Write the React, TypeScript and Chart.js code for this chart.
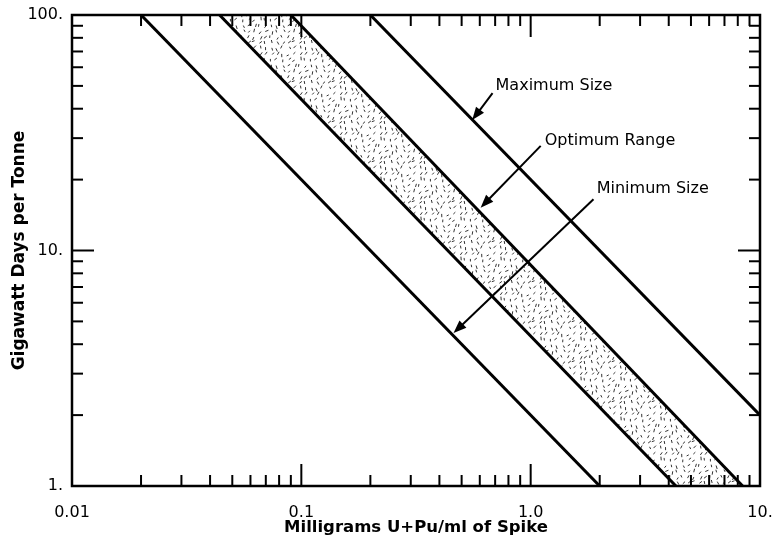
import React, { useEffect, useRef } from "react";
import { Chart, registerables } from "chart.js";

Chart.register(...registerables);

// ---- axes ----
const xMin = 0.01;
const xMax = 10;
const yMin = 1;
const yMax = 100;
const xTickValues = [0.01, 0.1, 1, 10];
const xTickLabels = ["0.01", "0.1", "1.0", "10."];
const yTickValues = [1, 10, 100];
const yTickLabels = ["1.", "10.", "100."];
const xMinorTicks = [
  0.02, 0.03, 0.04, 0.05, 0.06, 0.07, 0.08, 0.09,
  0.2, 0.3, 0.4, 0.5, 0.6, 0.7, 0.8, 0.9,
  2, 3, 4, 5, 6, 7, 8, 9,
];
const yMinorTicks = [2, 3, 4, 5, 6, 7, 8, 9, 20, 30, 40, 50, 60, 70, 80, 90];

// ---- lines (end points) ----
const minSizeX = [0.02, 2];
const minSizeY = [100, 1];
const optLowX = [0.044, 4.3];
const optLowY = [100, 1];
const optHighX = [0.09, 8.4];
const optHighY = [100, 1];
const maxSizeX = [0.2, 10];
const maxSizeY = [100, 2];

// ---- annotations (data coordinates) ----
const annotLabels = ["Maximum Size", "Optimum Range", "Minimum Size"];
const annotTextX = [0.703, 1.151, 1.941];
const annotTextY = [49.9, 29.3, 18.24];
const arrowTailX = [0.682, 1.106, 1.879];
const arrowTailY = [46.6, 27.8, 16.5];
const arrowTipX = [0.556, 0.605, 0.461];
const arrowTipY = [35.8, 15.2, 4.46];

const xTitle = "Milligrams U+Pu/ml of Spike";
const yTitle = "Gigawatt Days per Tonne";

const FONT = "'DejaVu Sans', Verdana, sans-serif";

function pts(xs: number[], ys: number[]) {
  return xs.map((x, i) => ({ x, y: ys[i] }));
}

function makeStipple(): CanvasPattern | string {
  const c = document.createElement("canvas");
  c.width = 40;
  c.height = 40;
  const g = c.getContext("2d");
  if (!g) return "rgba(0,0,0,0.2)";
  let s = 98765;
  const rnd = () => {
    s = (s * 1103515245 + 12345) & 0x7fffffff;
    return s / 0x7fffffff;
  };
  g.strokeStyle = "#333";
  g.lineWidth = 1;
  g.lineCap = "round";
  const n = 7;
  const cell = 40 / n;
  for (let i = 0; i < n; i++) {
    for (let j = 0; j < n; j++) {
      const x = (i + 0.2 + rnd() * 0.6) * cell;
      const y = (j + 0.2 + rnd() * 0.6) * cell;
      const a = -Math.PI / 2.6 + (rnd() - 0.5) * 1.8;
      const L = 1.6 + rnd() * 1.3;
      g.beginPath();
      g.moveTo(x - (Math.cos(a) * L) / 2, y - (Math.sin(a) * L) / 2);
      g.lineTo(x + (Math.cos(a) * L) / 2, y + (Math.sin(a) * L) / 2);
      g.stroke();
    }
  }
  return g.createPattern(c, "repeat") || "rgba(0,0,0,0.2)";
}

const framePlugin = {
  id: "frame",
  afterDatasetsDraw(chart: any) {
    const { ctx, chartArea: a, scales } = chart;
    const x = scales.x;
    const y = scales.y;
    ctx.save();
    ctx.strokeStyle = "#000";
    ctx.lineCap = "butt";
    const seg = (x1: number, y1: number, x2: number, y2: number) => {
      ctx.beginPath();
      ctx.moveTo(x1, y1);
      ctx.lineTo(x2, y2);
      ctx.stroke();
    };
    ctx.lineWidth = 2;
    const minor = 11;
    const major = 22;
    for (const v of xMinorTicks) {
      const p = x.getPixelForValue(v);
      seg(p, a.bottom, p, a.bottom - minor);
      seg(p, a.top, p, a.top + minor);
    }
    for (const v of xTickValues) {
      const p = x.getPixelForValue(v);
      seg(p, a.bottom, p, a.bottom - major);
      seg(p, a.top, p, a.top + major);
    }
    for (const v of yMinorTicks) {
      const p = y.getPixelForValue(v);
      seg(a.left, p, a.left + minor, p);
      seg(a.right, p, a.right - minor, p);
    }
    for (const v of yTickValues) {
      const p = y.getPixelForValue(v);
      seg(a.left, p, a.left + major, p);
      seg(a.right, p, a.right - major, p);
    }
    ctx.lineWidth = 2.5;
    ctx.strokeRect(a.left, a.top, a.width, a.height);

    // annotations
    ctx.fillStyle = "#000";
    ctx.font = `16px ${FONT}`;
    ctx.textAlign = "left";
    ctx.textBaseline = "middle";
    for (let i = 0; i < annotLabels.length; i++) {
      ctx.fillText(
        annotLabels[i],
        x.getPixelForValue(annotTextX[i]),
        y.getPixelForValue(annotTextY[i])
      );
      const tx = x.getPixelForValue(arrowTailX[i]);
      const ty = y.getPixelForValue(arrowTailY[i]);
      const hx = x.getPixelForValue(arrowTipX[i]);
      const hy = y.getPixelForValue(arrowTipY[i]);
      const ang = Math.atan2(hy - ty, hx - tx);
      const hl = 13;
      const hw = 5;
      ctx.lineWidth = 2;
      seg(tx, ty, hx - Math.cos(ang) * (hl - 2), hy - Math.sin(ang) * (hl - 2));
      ctx.beginPath();
      ctx.moveTo(hx, hy);
      ctx.lineTo(
        hx - Math.cos(ang) * hl + Math.sin(ang) * hw,
        hy - Math.sin(ang) * hl - Math.cos(ang) * hw
      );
      ctx.lineTo(
        hx - Math.cos(ang) * hl - Math.sin(ang) * hw,
        hy - Math.sin(ang) * hl + Math.cos(ang) * hw
      );
      ctx.closePath();
      ctx.fill();
    }
    ctx.restore();
  },
};

export default function App() {
  const ref = useRef<HTMLCanvasElement>(null);
  useEffect(() => {
    document.body.style.margin = "0";
    const canvas = ref.current;
    if (!canvas) return;
    const stipple = makeStipple();
    const lineStyle = {
      showLine: true,
      borderColor: "#000",
      borderWidth: 3,
      pointRadius: 0,
      fill: false,
      order: 1,
    };
    const chart = new Chart(canvas, {
      type: "scatter",
      data: {
        datasets: [
          {
            label: "Optimum Range",
            data: [
              ...pts(optLowX, optLowY).slice(0, 1),
              ...pts(optHighX, optHighY),
              ...pts(optLowX, optLowY).slice(1).reverse(),
            ],
            showLine: true,
            borderWidth: 0,
            borderColor: "rgba(0,0,0,0)",
            backgroundColor: stipple as any,
            pointRadius: 0,
            fill: "shape",
            order: 10,
          } as any,
          { label: "Minimum", data: pts(minSizeX, minSizeY), ...lineStyle },
          { label: "OptLow", data: pts(optLowX, optLowY), ...lineStyle },
          { label: "OptHigh", data: pts(optHighX, optHighY), ...lineStyle },
          { label: "Maximum", data: pts(maxSizeX, maxSizeY), ...lineStyle },
        ],
      },
      options: {
        responsive: false,
        animation: false,
        events: [],
        layout: { padding: { left: 0, top: 15, right: 14, bottom: 0 } },
        plugins: {
          legend: { display: false },
          tooltip: { enabled: false },
        },
        scales: {
          x: {
            type: "logarithmic",
            min: xMin,
            max: xMax,
            grid: { display: false, drawTicks: false },
            border: { display: false },
            afterBuildTicks: (s: any) => {
              s.ticks = xTickValues.map((v) => ({ value: v }));
            },
            afterFit: (s: any) => {
              s.height = 62;
              s.paddingLeft = 0;
              s.paddingRight = 0;
            },
            ticks: {
              autoSkip: false,
              maxRotation: 0,
              padding: 17,
              color: "#000",
              font: { family: FONT, size: 16 },
              callback: (_v: any, i: number) => xTickLabels[i],
            },
            title: {
              display: true,
              text: xTitle,
              color: "#000",
              font: { family: FONT, size: 16.5, weight: "bold" },
              padding: { top: 0, bottom: 10 },
            },
          },
          y: {
            type: "logarithmic",
            min: yMin,
            max: yMax,
            grid: { display: false, drawTicks: false },
            border: { display: false },
            afterBuildTicks: (s: any) => {
              s.ticks = yTickValues.map((v) => ({ value: v }));
            },
            afterFit: (s: any) => {
              s.width = 72;
              s.paddingTop = 0;
              s.paddingBottom = 0;
            },
            ticks: {
              autoSkip: false,
              padding: 9,
              color: "#000",
              font: { family: FONT, size: 16 },
              callback: (_v: any, i: number) => yTickLabels[i],
            },
            title: {
              display: true,
              text: yTitle,
              color: "#000",
              font: { family: FONT, size: 17, weight: "bold" },
              padding: { top: 9, bottom: 0 },
            },
          },
        },
      },
      plugins: [framePlugin],
    } as any);
    return () => chart.destroy();
  }, []);
  return (
    <div style={{ position: "absolute", left: 0, top: 0, width: 774, height: 548, background: "#fff" }}>
      <canvas ref={ref} width={774} height={548} />
    </div>
  );
}
